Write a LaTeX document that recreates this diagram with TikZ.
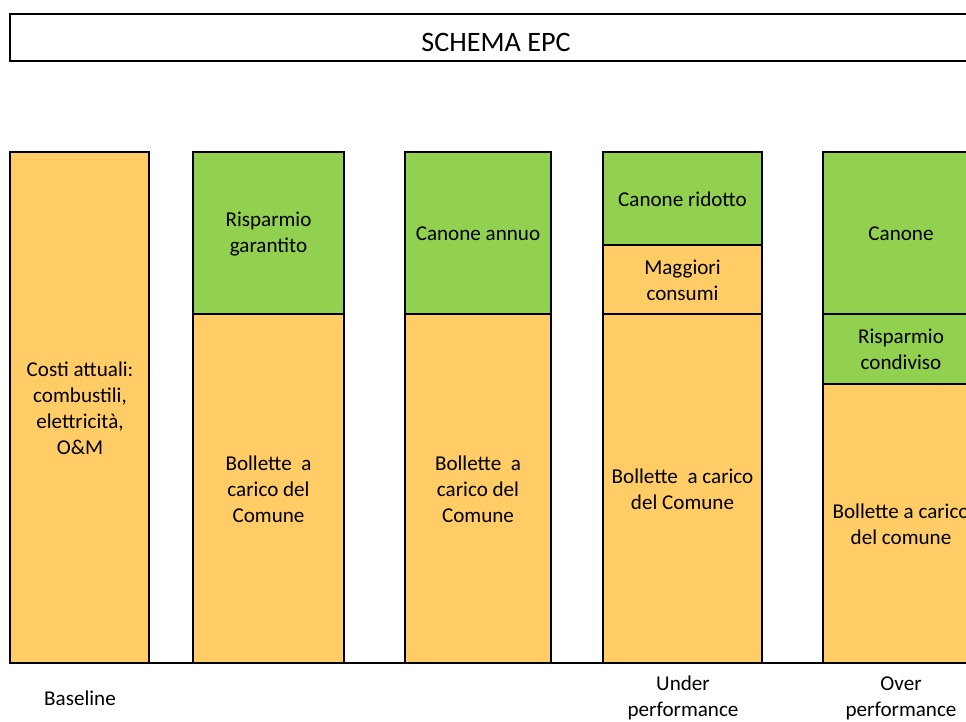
\documentclass[tikz,border=0pt]{standalone}
\usepackage{fontspec}
\setmainfont{Carlito}
\definecolor{costo}{RGB}{255,204,102}
\definecolor{risparmio}{RGB}{146,208,80}

\begin{document}
\begin{tikzpicture}[x=0.025cm,y=-0.025cm,
    seg/.style={draw,line width=1.2pt},
    lbl/.style={align=center,inner sep=0pt,font=\fontsize{15}{18.4}\selectfont}]
  \useasboundingbox (0,0) rectangle (966,722);
  \clip (0,0) rectangle (966,722);

  % titolo
  \draw[seg] (10,14) rectangle (1000,61);
  \node (titolo) at (496,42) {\fontsize{20}{24}\selectfont SCHEMA EPC};

  % baseline
  \draw[seg,fill=costo] (10,152) rectangle (149,663);
  \node[lbl] (costi) at (80,408) {Costi attuali:\\combustili,\\elettricità,\\O\&M};

  % risparmio garantito
  \draw[seg,fill=risparmio] (193,152) rectangle (344,314);
  \draw[seg,fill=costo] (193,314) rectangle (344,663);
  \node[lbl] (garantito) at (268.5,234) {Risparmio\\garantito};
  \node[lbl] (bollette2) at (268.5,489) {Bollette\ \ a\\carico del\\Comune};

  % canone annuo
  \draw[seg,fill=risparmio] (405,152) rectangle (551,314);
  \draw[seg,fill=costo] (405,314) rectangle (551,663);
  \node[lbl] (annuo) at (478,234) {Canone annuo};
  \node[lbl] (bollette3) at (478,489) {Bollette\ \ a\\carico del\\Comune};

  % under performance
  \draw[seg,fill=risparmio] (603,152) rectangle (762,245);
  \draw[seg,fill=costo] (603,245) rectangle (762,314);
  \draw[seg,fill=costo] (603,314) rectangle (762,663);
  \node[lbl] (ridotto) at (682.5,199) {Canone ridotto};
  \node[lbl] (maggiori) at (682.5,280) {Maggiori\\consumi};
  \node[lbl] (bollette4) at (682.5,489) {Bollette\ \ a carico\\del Comune};

  % over performance
  \draw[seg,fill=risparmio] (823,152) rectangle (980,314);
  \draw[seg,fill=risparmio] (823,314) rectangle (980,384);
  \draw[seg,fill=costo] (823,384) rectangle (980,663);
  \node[lbl] (canone) at (901,234) {Canone};
  \node[lbl] (condiviso) at (901,349) {Risparmio\\condiviso};
  \node[lbl] (bollette5) at (901,524) {Bollette a carico\\del comune};

  \draw[seg] (10,663) -- (1000,663);

  % didascalie
  \node[lbl] (base) at (80,698) {Baseline};
  \node[lbl] (under) at (683,698) {Under\\performance};
  \node[lbl] (over) at (901,698) {Over\\performance};
\end{tikzpicture}
\end{document}
